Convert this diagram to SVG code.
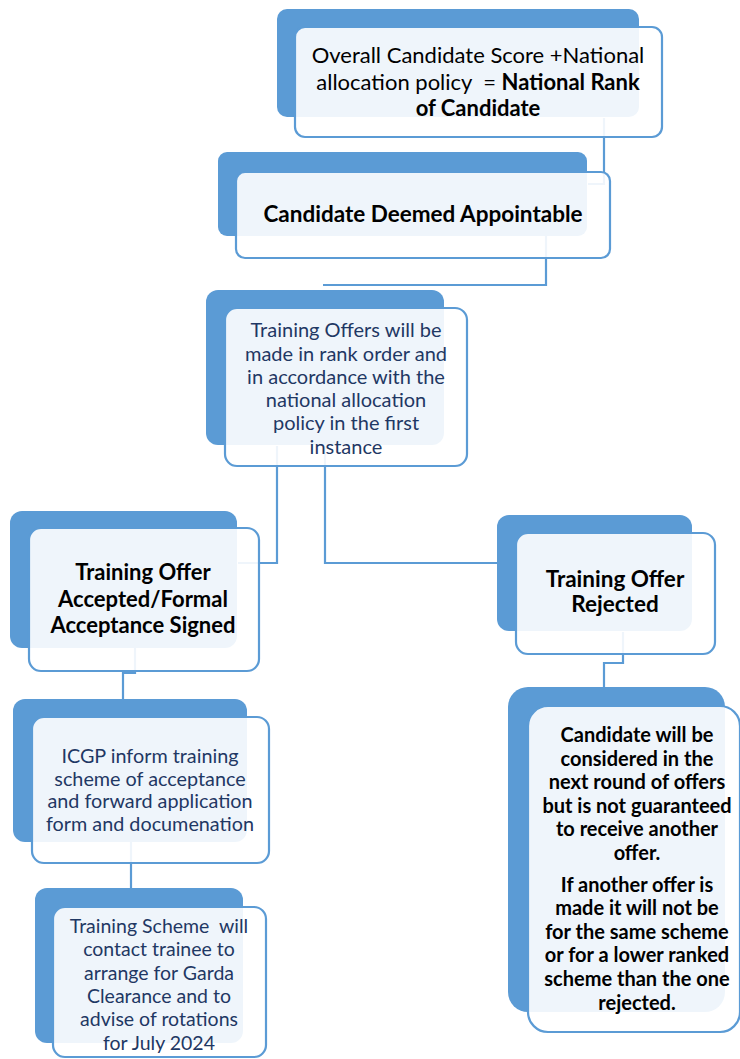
<svg xmlns="http://www.w3.org/2000/svg" width="740" height="1059" viewBox="0 0 740 1059">
<style>
.back{fill:#5B9BD5}
.front{fill:#FFFFFF;fill-opacity:0.9;stroke:#5B9BD5;stroke-width:2.2}
.conn{fill:none;stroke:#5B9BD5;stroke-width:2.2}
.t{font-family:Lato,"Liberation Sans",sans-serif;text-anchor:middle}
.dark{fill:#000000}
.navy{fill:#1F3864}
.b{font-weight:bold}
</style>
<rect width="740" height="1059" fill="#FFFFFF"/>
<g id="connectors">
<path class="conn" d="M604,118 V184 H588"/>
<path class="conn" d="M546,236 V285 H323"/>
<path class="conn" d="M277,446 V563 H238"/>
<path class="conn" d="M325,446 V563 H497"/>
<path class="conn" d="M135,648 V673 H123 V700"/>
<path class="conn" d="M131,842 V888"/>
<path class="conn" d="M623,632 V663 H604 V688"/>
</g>
<g id="node1">
<rect class="back" x="277" y="9" width="362" height="108" rx="10"/>
<rect class="front" x="295" y="27" width="367" height="110" rx="10"/>
<text class="t dark" font-size="22"><tspan x="478" y="63">Overall Candidate Score +National</tspan><tspan x="478" y="90">allocation policy &#160;= <tspan class="b">National Rank</tspan></tspan><tspan class="b" x="478" y="116">of Candidate</tspan></text>
</g>
<g id="node2">
<rect class="back" x="218" y="152" width="369" height="84" rx="9"/>
<rect class="front" x="236" y="172" width="374" height="86" rx="9"/>
<text class="t dark b" font-size="22.5" x="423" y="222">Candidate Deemed Appointable</text>
</g>
<g id="node3">
<rect class="back" x="206" y="290" width="238" height="155" rx="12"/>
<rect class="front" x="225" y="308" width="242" height="158" rx="12"/>
<text class="t navy" font-size="20"><tspan x="346" y="337">Training Offers will be</tspan><tspan x="346" y="360.5">made in rank order and</tspan><tspan x="346" y="384">in accordance with the</tspan><tspan x="346" y="407">national allocation</tspan><tspan x="346" y="430">policy in the first</tspan><tspan x="346" y="454">instance</tspan></text>
</g>
<g id="node4">
<rect class="back" x="10" y="511" width="227" height="137" rx="12"/>
<rect class="front" x="29" y="528" width="230" height="143" rx="12"/>
<text class="t dark b" font-size="22"><tspan x="143" y="580">Training Offer</tspan><tspan x="143" y="606.5">Accepted/Formal</tspan><tspan x="143" y="633">Acceptance Signed</tspan></text>
</g>
<g id="node5">
<rect class="back" x="13" y="699" width="234" height="143" rx="12"/>
<rect class="front" x="32" y="717" width="237" height="146" rx="12"/>
<text class="t navy" font-size="19.8"><tspan x="150" y="763">ICGP inform training</tspan><tspan x="150" y="785.5">scheme of acceptance</tspan><tspan x="150" y="808">and forward application</tspan><tspan x="150" y="830.5">form and documenation</tspan></text>
</g>
<g id="node6">
<rect class="back" x="35" y="888" width="208" height="155" rx="12"/>
<rect class="front" x="53" y="907" width="213" height="150" rx="12"/>
<text class="t navy" font-size="19.5"><tspan x="159" y="933">Training Scheme &#160;will</tspan><tspan x="159" y="956">contact trainee to</tspan><tspan x="159" y="980">arrange for Garda</tspan><tspan x="159" y="1003">Clearance and to</tspan><tspan x="159" y="1026">advise of rotations</tspan><tspan x="159" y="1050">for July 2024</tspan></text>
</g>
<g id="node7">
<rect class="back" x="497" y="515" width="195" height="116" rx="12"/>
<rect class="front" x="516" y="533" width="199" height="121" rx="12"/>
<text class="t dark b" font-size="22.5"><tspan x="615" y="587">Training Offer</tspan><tspan x="615" y="612">Rejected</tspan></text>
</g>
<g id="node8">
<rect class="back" x="508" y="687" width="217" height="325" rx="20"/>
<rect class="front" x="528" y="706" width="212" height="326" rx="20"/>
<text class="t dark b" font-size="20"><tspan x="637" y="742">Candidate will be</tspan><tspan x="637" y="765.5">considered in the</tspan><tspan x="637" y="789">next round of offers</tspan><tspan x="637" y="813">but is not guaranteed</tspan><tspan x="637" y="836">to receive another</tspan><tspan x="637" y="860">offer.</tspan><tspan x="637" y="892">If another offer is</tspan><tspan x="637" y="915">made it will not be</tspan><tspan x="637" y="939">for the same scheme</tspan><tspan x="637" y="962">or for a lower ranked</tspan><tspan x="637" y="986">scheme than the one</tspan><tspan x="637" y="1010">rejected.</tspan></text>
</g>
</svg>
